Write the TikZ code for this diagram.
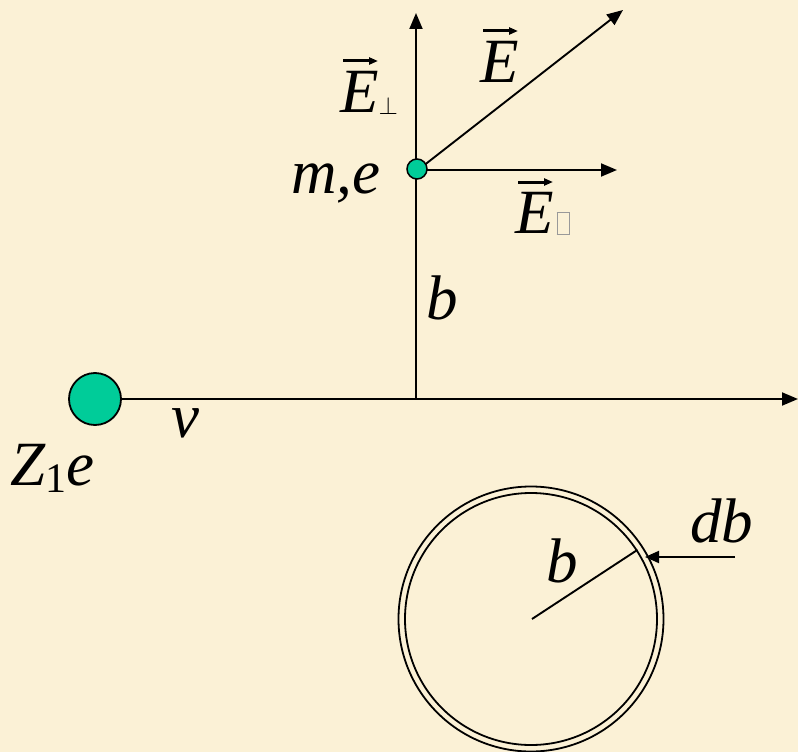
\documentclass[tikz,border=0pt]{standalone}
\usepackage{fontspec}
\setmainfont{Liberation Serif}[ItalicFont={Liberation Serif Italic}]
\usetikzlibrary{arrows.meta,calc}
\definecolor{bgcream}{RGB}{251,241,214}
\definecolor{ballgreen}{RGB}{0,204,153}
\tikzset{
  lbl/.style={inner sep=0pt, anchor=base west, font=\fontsize{63}{66}\selectfont\itshape},
  axis/.style={line width=1.9pt, -{Triangle[length=16pt,width=13pt]}},
  plain/.style={line width=1.9pt},
  vecarr/.style={line width=3pt, -{Triangle[length=9pt,width=7pt]}},
  ball/.style={circle, draw=black, line width=1.8pt, fill=ballgreen, inner sep=0pt},
}
\begin{document}
\begin{tikzpicture}[x=1pt,y=-1pt]
\fill[bgcream] (0,0) rectangle (798,752);
\useasboundingbox (0,0) rectangle (798,752);
% axes
\coordinate (O) at (416,399);
\coordinate (xend) at (798,399);
\coordinate (yend) at (416,13);
\node[ball, minimum size=52pt] (Z) at (95,399) {};
\draw[axis] (Z.east) -- (xend);
\draw[axis] (O) -- (yend);
% field vectors
\coordinate (me0) at (418,170);
\coordinate (Epar) at (617,170);
\coordinate (Etot) at (623,10);
\draw[axis] (me0) -- (Epar);
\draw[axis] (me0) -- (Etot);
\node[ball, minimum size=20pt, line width=1.5pt] (me) at (417,169) {};
% labels
\node[lbl] (lE) at (480,82) {E};
\draw[vecarr] ($(lE.base west)+(3,-51)$) -- ($(lE.base west)+(38,-51)$);
\node[lbl] (lEperp) at (340,112) {E\raisebox{-2pt}{\fontsize{38}{40}\selectfont\upshape$\perp$}};
\draw[vecarr] ($(lEperp.base west)+(3,-51)$) -- ($(lEperp.base west)+(38,-51)$);
\node[lbl] (lEpar) at (515,233) {E\hspace{3pt}\raisebox{-1pt}{\color{gray!80}\setlength{\fboxsep}{0pt}\setlength{\fboxrule}{0.9pt}\framebox[13pt]{\rule{0pt}{21pt}}}};
\draw[vecarr] ($(lEpar.base west)+(3,-51)$) -- ($(lEpar.base west)+(38,-51)$);
\node[lbl] (lme) at (291,193) {m,e};
\node[lbl] (lb) at (426,319) {b};
\node[lbl] (lv) at (171,437) {v};
\node[lbl] (lZ) at (10,485) {Z\raisebox{-7pt}{\fontsize{42}{44}\selectfont\upshape 1}e};
% ring
\node[circle, draw=black, line width=1.8pt, minimum size=265pt, inner sep=0pt] (ringout) at (531,619) {};
\node[circle, draw=black, line width=1.8pt, minimum size=252pt, inner sep=0pt] (ringin) at (531,619) {};
\coordinate (rc) at (532,619);
\draw[plain] (rc) -- (ringin.33);
\coordinate (dbtail) at (735,557);
\coordinate (dbtip) at (645,557);
\draw[line width=1.9pt, -{Triangle[length=14pt,width=12pt]}] (dbtail) -- (dbtip);
\node[lbl] (lb2) at (546,582) {b};
\node[lbl] (ldb) at (690,542) {db};
\end{tikzpicture}
\end{document}
